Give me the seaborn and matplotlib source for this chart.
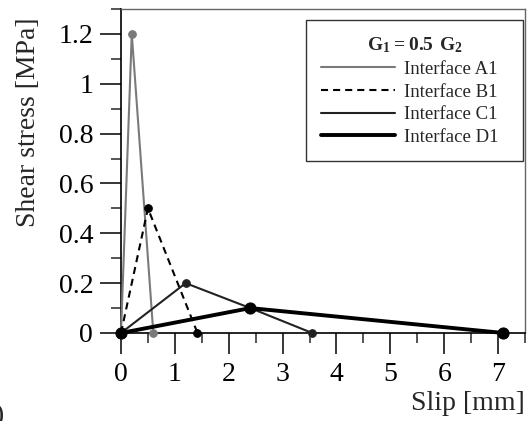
import matplotlib
matplotlib.use("Agg")
import matplotlib.pyplot as plt
import seaborn as sns
import pandas as pd
from matplotlib.lines import Line2D
from matplotlib.ticker import MultipleLocator, FuncFormatter

sns.set_style("white")
plt.rcParams['font.family'] = ['Liberation Serif', 'DejaVu Serif']
plt.rcParams['mathtext.fontset'] = 'custom'
plt.rcParams['mathtext.rm'] = 'Liberation Serif'
plt.rcParams['mathtext.bf'] = 'Liberation Serif:bold'

# Data
a1_slip = [0.0, 0.2, 0.6]
a1_stress = [0.0, 1.2, 0.0]
b1_slip = [0.0, 0.5, 1.42]
b1_stress = [0.0, 0.5, 0.0]
c1_slip = [0.0, 1.2, 2.4, 3.55]
c1_stress = [0.0, 0.2, 0.1, 0.0]
d1_slip = [0.0, 2.4, 7.1]
d1_stress = [0.0, 0.1, 0.0]
labels = ["Interface A1", "Interface B1", "Interface C1", "Interface D1"]
x_ticks = [0, 1, 2, 3, 4, 5, 6, 7]
y_ticks = [0, 0.2, 0.4, 0.6, 0.8, 1.0, 1.2]

fig = plt.figure(figsize=(5.27, 4.21), dpi=100)
ax = fig.add_axes([121/527, 1-333/421, (525-121)/527, (333-9)/421])

styles = [
    dict(color="#7a7a7a", lw=1.5, ls="-", ms=5.5, mc="#7a7a7a"),
    dict(color="#000000", lw=1.5, ls=(0, (3.4, 2.4)), ms=5.5, mc="#000000"),
    dict(color="#222222", lw=1.5, ls="-", ms=5.5, mc="#222222"),
    dict(color="#000000", lw=2.8, ls="-", ms=8, mc="#000000"),
]
series = [(a1_slip, a1_stress), (b1_slip, b1_stress), (c1_slip, c1_stress), (d1_slip, d1_stress)]

for (xs, ys), lab, st in zip(series, labels, styles):
    df = pd.DataFrame({"slip": xs, "stress": ys})
    sns.lineplot(data=df, x="slip", y="stress", sort=False, estimator=None, ax=ax,
                 color=st["color"], lw=st["lw"], linestyle=st["ls"], marker="o",
                 markersize=st["ms"], markerfacecolor=st["mc"], markeredgecolor=st["mc"],
                 clip_on=False, legend=False, zorder=3)

ax.set_xlim(0, 7.5)
ax.set_ylim(0, 1.3)
ax.set_xticks(x_ticks)
ax.set_yticks(y_ticks)
ax.xaxis.set_minor_locator(MultipleLocator(0.5))
ax.yaxis.set_minor_locator(MultipleLocator(0.1))
ax.yaxis.set_major_formatter(FuncFormatter(lambda v, p: f"{v:g}"))
ax.tick_params(axis="both", which="major", direction="out", length=15, width=1.1,
               labelsize=20, colors="black", bottom=True, left=True, pad=5)
ax.tick_params(axis="both", which="minor", direction="out", length=7, width=1.1,
               bottom=True, left=True)
ax.tick_params(axis="x", which="major", pad=6)

for s in ["left", "bottom"]:
    ax.spines[s].set_color("black")
    ax.spines[s].set_linewidth(1.2)
for s in ["top", "right"]:
    ax.spines[s].set_color("#666666")
    ax.spines[s].set_linewidth(1.0)

ax.set_xlabel("Slip [mm]", fontsize=20, ha="right", va="center")
ax.set_ylabel("Shear stress [MPa]", fontsize=20, ha="center", va="center")
ax.xaxis.set_label_coords(1.0, (333-404)/324)
ax.yaxis.set_label_coords((29-121)/404, (333-122)/324)

handles = [Line2D([0], [0], color=st["color"], lw=st["lw"], linestyle=st["ls"]) for st in styles]
leg_labels = [l + "  " for l in labels]
leg = ax.legend(handles, leg_labels, title=r"$\mathbf{G_1 = 0.5\ G_2}$", loc="upper right",
                bbox_to_anchor=(0.995, 0.965), fontsize=13.5, title_fontsize=14,
                frameon=True, fancybox=False, edgecolor="black", handlelength=3.9,
                handletextpad=0.5, borderpad=0.8, labelspacing=0.3, borderaxespad=0)
leg.get_frame().set_linewidth(1.0)

fig.text(-0.012, 0.012, ")", fontsize=20, ha="left", va="center")

fig.savefig("out.png", dpi=100)
